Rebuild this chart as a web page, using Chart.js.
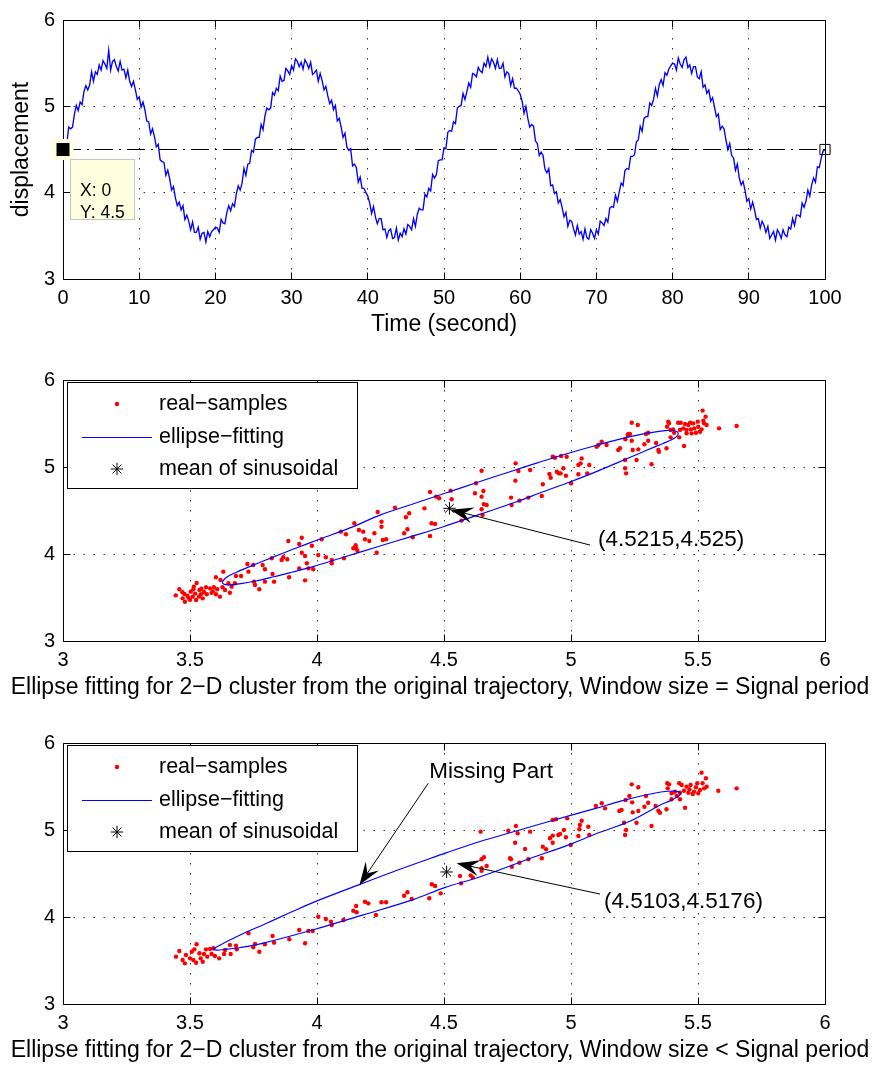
<!DOCTYPE html>
<html lang="en">
<head>
<meta charset="utf-8">
<title>Sinusoidal trajectory and ellipse fitting</title>
<script src="https://cdn.jsdelivr.net/npm/chart.js@4.4.1/dist/chart.umd.min.js"></script>
<style>
    html, body { margin: 0; padding: 0; background: #ffffff; }
    body { position: relative; width: 876px; height: 1066px; overflow: hidden; }
    .panel { position: absolute; left: 0; width: 876px; }
</style>
</head>
<body>
<div class="panel" style="top:0; height:345px;"><canvas id="signalChart"></canvas></div>
<div class="panel" style="top:345px; height:362px;"><canvas id="fullWindowChart"></canvas></div>
<div class="panel" style="top:707px; height:359px;"><canvas id="shortWindowChart"></canvas></div>
<script>
// ---------- signal (sampled every timeStep seconds) ----------
const timeStep = 0.25;
const displacement = [
    4.50,4.58,4.57,4.76,4.74,4.76,4.91,5.01,4.95,5.05,5.02,5.17,5.24,5.19,5.25,5.40,5.29,5.40,5.37,5.48,
    5.42,5.53,5.49,5.44,5.65,5.42,5.52,5.54,5.46,5.41,5.52,5.42,5.43,5.33,5.42,5.29,5.23,5.29,5.19,5.08,
    5.11,4.99,5.05,4.96,4.83,4.82,4.68,4.74,4.65,4.53,4.56,4.38,4.36,4.35,4.20,4.26,4.16,4.03,4.07,3.94,
    3.85,3.89,3.80,3.85,3.69,3.74,3.67,3.57,3.66,3.54,3.54,3.60,3.46,3.53,3.54,3.43,3.55,3.49,3.55,3.57,
    3.60,3.59,3.54,3.69,3.65,3.64,3.77,3.85,3.79,3.87,3.84,3.99,4.08,4.03,4.11,4.28,4.20,4.33,4.34,4.49,
    4.47,4.62,4.64,4.64,4.79,4.73,4.89,4.98,4.96,4.98,5.16,5.13,5.21,5.18,5.35,5.29,5.30,5.44,5.41,5.37,
    5.47,5.42,5.55,5.52,5.46,5.51,5.43,5.54,5.50,5.44,5.51,5.37,5.39,5.42,5.29,5.38,5.30,5.19,5.23,5.12,
    5.03,5.07,4.96,5.01,4.83,4.86,4.76,4.64,4.69,4.53,4.49,4.51,4.31,4.33,4.29,4.12,4.18,4.05,4.05,4.00,
    3.96,3.88,3.76,3.84,3.72,3.64,3.70,3.70,3.57,3.58,3.48,3.56,3.58,3.47,3.48,3.59,3.45,3.53,3.49,3.58,
    3.52,3.63,3.61,3.57,3.70,3.61,3.75,3.82,3.80,3.80,3.98,3.95,4.05,4.02,4.21,4.17,4.21,4.37,4.38,4.38,
    4.52,4.51,4.70,4.72,4.71,4.82,4.80,4.98,5.00,5.01,5.15,5.08,5.17,5.27,5.22,5.38,5.37,5.34,5.45,5.41,
    5.39,5.50,5.46,5.57,5.46,5.55,5.51,5.44,5.54,5.44,5.44,5.50,5.34,5.40,5.38,5.24,5.32,5.21,5.21,5.18,
    5.14,5.06,4.92,5.00,4.86,4.76,4.79,4.77,4.60,4.57,4.43,4.47,4.43,4.27,4.23,4.28,4.08,4.09,3.99,4.01,
    3.88,3.92,3.83,3.72,3.77,3.61,3.68,3.67,3.58,3.51,3.62,3.52,3.55,3.46,3.58,3.48,3.46,3.57,3.53,3.47,
    3.57,3.52,3.67,3.65,3.62,3.70,3.66,3.82,3.84,3.83,3.97,3.90,4.01,4.11,4.08,4.26,4.28,4.27,4.42,4.42,
    4.44,4.59,4.61,4.77,4.71,4.86,4.88,4.88,5.04,5.01,5.08,5.21,5.12,5.25,5.31,5.24,5.39,5.36,5.43,5.47,
    5.50,5.49,5.42,5.56,5.49,5.45,5.54,5.57,5.45,5.48,5.38,5.46,5.46,5.34,5.32,5.40,5.22,5.25,5.15,5.19,
    5.06,5.10,4.99,4.88,4.91,4.73,4.77,4.74,4.61,4.50,4.57,4.43,4.40,4.26,4.33,4.17,4.09,4.13,4.03,3.90,
    3.93,3.81,3.89,3.80,3.69,3.70,3.59,3.67,3.62,3.54,3.61,3.47,3.51,3.55,3.45,3.57,3.53,3.47,3.57,3.51,
    3.49,3.60,3.58,3.70,3.62,3.74,3.74,3.72,3.88,3.83,3.90,4.03,3.96,4.09,4.17,4.12,4.30,4.29,4.40,4.48,
    4.50
];
const timeTicks = [0, 10, 20, 30, 40, 50, 60, 70, 80, 90, 100];
const displacementTicks = [3, 4, 5, 6];
const referenceLevel = 4.5;

// ---------- 2-D clusters ----------
const phaseXTicks = [3, 3.5, 4, 4.5, 5, 5.5, 6];
const phaseYTicks = [3, 4, 5, 6];

const fullSamples = [
    [3.444,3.525],[3.458,3.594],[3.471,3.490],[3.480,3.452],[3.478,3.540],[3.494,3.498],[3.503,3.567],[3.513,3.594],[3.511,3.510],[3.526,3.667],
    [3.524,3.471],[3.537,3.586],[3.543,3.537],[3.550,3.490],[3.555,3.563],[3.563,3.617],[3.566,3.537],[3.579,3.605],[3.585,3.555],[3.594,3.617],
    [3.602,3.732],[3.607,3.594],[3.602,3.537],[3.618,3.510],[3.620,3.701],[3.628,3.617],[3.631,3.797],[3.638,3.586],[3.651,3.663],[3.657,3.555],
    [3.664,3.625],[3.677,3.663],[3.681,3.747],[3.701,3.747],[3.726,3.885],[3.730,3.797],[3.749,3.874],[3.752,3.682],[3.756,3.644],[3.773,3.594],
    [3.786,3.874],[3.795,3.824],[3.795,3.682],[3.822,3.951],[3.825,3.770],[3.831,3.682],[3.861,3.931],[3.867,3.962],[3.883,3.939],[3.887,4.149],
    [3.890,3.732],[3.930,4.115],[3.940,4.187],[3.940,4.015],[3.930,3.835],[3.953,3.977],[3.953,3.697],[3.960,3.893],[3.966,3.835],[3.980,4.095],
    [3.985,3.824],[4.005,3.989],[4.018,4.169],[4.035,3.962],[4.058,3.931],[4.058,3.893],[4.094,4.257],[4.114,4.227],[4.106,3.951],[4.147,4.353],
    [4.143,4.066],[4.154,4.066],[4.159,4.038],[4.165,4.276],[4.182,4.257],[4.189,4.169],[4.206,4.149],[4.226,4.238],[4.235,4.015],[4.239,4.483],
    [3.490,3.520],[3.520,3.545],[3.535,3.510],[3.470,3.560],[3.500,3.475],[3.545,3.600],[3.590,3.570],[3.515,3.625],
    [4.152,4.101],[4.254,4.372],[4.254,4.314],[4.259,4.161],[4.272,4.169],[4.307,4.533],[4.343,4.238],[4.350,4.422],[4.356,4.284],[4.363,4.468],
    [4.377,4.192],[4.423,4.525],[4.445,4.713],[4.445,4.207],[4.451,4.353],[4.465,4.345],[4.469,4.659],[4.481,4.640],[4.526,4.728],[4.530,4.629],
    [4.569,4.384],[4.622,4.698],[4.626,4.813],[4.648,4.659],[4.655,4.724],[4.657,4.571],[4.648,4.514],[4.648,4.957],[4.652,4.448],[4.668,4.563],
    [4.764,4.648],[4.766,4.563],[4.781,4.843],[4.782,5.042],[4.793,4.954],[4.797,4.613],[4.832,4.648],[4.839,4.966],[4.885,4.667],[4.889,4.801],
    [4.915,4.920],[4.920,4.877],[4.928,5.118],[4.937,5.107],[4.944,4.946],[4.952,4.927],[4.959,4.927],[4.961,5.126],[4.970,4.985],[4.980,4.900],
    [4.983,5.118],[5.000,4.813],[5.029,5.023],[5.029,4.916],[5.042,5.099],[5.038,5.042],[5.064,4.927],[5.072,5.023],[5.101,5.233],[5.108,5.253],
    [5.121,5.291],[5.140,5.253],[5.186,5.195],[5.193,5.215],[5.213,5.080],[5.213,4.985],[5.217,4.927],[5.223,5.368],
    [5.214,5.319],[5.226,5.379],[5.232,5.379],[5.239,5.509],[5.239,5.302],[5.243,5.195],[5.258,5.080],[5.263,5.483],[5.265,5.203],[5.289,5.262],
    [5.295,5.379],[5.304,5.394],[5.304,5.302],[5.317,5.031],[5.335,5.276],[5.344,5.195],[5.346,5.176],[5.376,5.215],[5.383,5.521],[5.386,5.502],
    [5.378,5.463],[5.392,5.425],[5.392,5.341],[5.402,5.433],[5.406,5.394],[5.422,5.509],[5.429,5.425],[5.426,5.341],[5.432,5.509],[5.442,5.444],
    [5.445,5.241],[5.449,5.494],[5.455,5.425],[5.455,5.387],[5.462,5.483],[5.469,5.509],[5.472,5.433],[5.475,5.387],[5.481,5.502],[5.485,5.444],
    [5.492,5.394],[5.499,5.521],[5.501,5.463],[5.508,5.406],[5.514,5.433],[5.518,5.648],[5.521,5.533],[5.524,5.502],[5.530,5.579],[5.534,5.483],
    [5.583,5.444],[5.652,5.471]
];
const fullEllipse = [
    [4.504,4.698],[4.630,4.822],[4.760,4.946],[4.870,5.050],[4.957,5.130],[5.101,5.250],[5.219,5.340],[5.304,5.390],[5.370,5.418],[5.405,5.420],
    [5.420,5.400],[5.420,5.365],[5.402,5.322],[5.360,5.268],[5.300,5.195],[5.219,5.094],[5.090,4.935],[4.996,4.828],[4.890,4.715],[4.786,4.601],
    [4.640,4.455],[4.497,4.314],[4.370,4.200],[4.242,4.087],[4.091,3.951],[3.985,3.855],[3.900,3.790],[3.830,3.738],[3.760,3.690],[3.700,3.660],
    [3.655,3.645],[3.632,3.655],[3.628,3.680],[3.638,3.718],[3.655,3.752],[3.690,3.800],[3.760,3.885],[3.822,3.958],[3.900,4.048],[4.012,4.172],
    [4.143,4.315],[4.250,4.450],[4.380,4.578],[4.504,4.698]
];
const fullMean = [4.5215, 4.525];

const shortSamples = [
    [3.445,3.544],[3.458,3.609],[3.471,3.506],[3.480,3.467],[3.484,3.563],[3.500,3.525],[3.507,3.601],[3.517,3.628],[3.513,3.506],[3.526,3.686],
    [3.524,3.475],[3.537,3.583],[3.542,3.525],[3.550,3.486],[3.555,3.575],[3.563,3.628],[3.568,3.544],[3.579,3.632],[3.585,3.575],[3.592,3.640],
    [3.598,3.552],[3.615,3.525],[3.638,3.621],[3.634,3.575],[3.657,3.678],[3.660,3.575],[3.681,3.670],[3.684,3.628],[3.730,3.813],[3.749,3.652],
    [3.756,3.690],[3.773,3.601],[3.795,3.686],[3.825,3.782],[3.831,3.705],[3.891,3.744],[3.930,3.851],[3.953,3.698],[3.966,3.839],[3.983,3.839],
    [4.005,4.003],[4.035,3.977],[4.058,3.908],[4.055,3.946],[4.104,3.966],[4.143,4.072],[4.154,4.126],[4.156,4.054],[4.189,4.176],[4.202,4.157],
    [4.232,4.023],[4.254,4.169],[4.272,4.169],[4.343,4.245],[4.356,4.284],[4.373,4.207],[4.442,4.215],[4.452,4.376],[4.465,4.356],[4.487,4.272],
    [4.644,4.981],[4.753,4.992],[4.563,4.471],[4.567,4.387],[4.605,4.479],[4.613,4.456],[4.648,4.663],[4.657,4.686],[4.668,4.586],[4.648,4.560],
    [4.760,4.675],[4.648,4.532],[4.783,5.046],[4.790,4.962],[4.780,4.854],[4.764,4.663],[4.767,4.578],[4.797,4.624],[4.819,4.782],[4.839,4.981],
    [4.832,4.663],[4.885,4.675],[4.889,4.808],[4.902,4.778],[4.917,4.905],[4.928,5.115],[4.941,5.123],[4.928,4.854],[4.928,4.935],[4.950,4.943],
    [4.957,4.954],[4.972,5.000],[4.980,4.916],[4.985,5.134],[4.999,4.828],[5.029,4.931],[5.035,5.057],[5.042,5.107],[5.033,5.008],[5.068,5.038],
    [5.072,4.943],[5.098,5.276],[5.121,5.307],[5.134,5.249],[5.190,5.218],[5.199,5.230],[5.209,5.084],[5.217,5.000],[5.213,4.943],[5.215,5.345],
    [5.230,5.391],[5.239,5.525],[5.241,5.318],[5.243,5.203],[5.258,5.084],[5.265,5.491],[5.265,5.218],[5.289,5.268],[5.295,5.391],[5.304,5.314],
    [5.317,5.046],[5.333,5.276],[5.344,5.222],[5.350,5.199],[5.376,5.238],[5.379,5.537],[5.386,5.525],[5.381,5.479],[5.396,5.422],[5.396,5.353],
    [5.409,5.440],[5.416,5.391],[5.426,5.537],[5.429,5.429],[5.429,5.353],[5.436,5.517],[5.445,5.452],[5.449,5.256],[5.455,5.498],[5.462,5.429],
    [5.466,5.468],[5.471,5.517],[5.479,5.414],[5.484,5.440],[5.492,5.491],[5.497,5.537],[5.501,5.422],[5.508,5.460],[5.514,5.659],[5.518,5.537],
    [5.524,5.479],[5.531,5.594],[5.534,5.498],[5.580,5.452],[5.652,5.479]
];
const shortEllipse = [
    [4.510,4.740],[4.642,4.868],[4.760,4.968],[4.930,5.112],[5.101,5.252],[5.200,5.335],[5.298,5.405],[5.370,5.443],[5.410,5.447],[5.430,5.428],
    [5.428,5.400],[5.416,5.375],[5.390,5.335],[5.350,5.285],[5.232,5.100],[5.101,4.960],[4.996,4.835],[4.839,4.672],[4.642,4.462],[4.500,4.335],
    [4.379,4.200],[4.182,4.025],[3.985,3.853],[3.789,3.700],[3.700,3.650],[3.640,3.628],[3.605,3.620],[3.592,3.628],[3.605,3.655],[3.625,3.688],
    [3.657,3.736],[3.720,3.825],[3.789,3.912],[3.890,4.045],[4.000,4.185],[4.169,4.375],[4.313,4.535],[4.510,4.740]
];
const shortMean = [4.5103, 4.5176];

const seriesNames = ['real\u2212samples', 'ellipse\u2212fitting', 'mean of sinusoidal'];

// ---------- drawing helpers ----------
const FONT = '"Liberation Sans", Arial, Helvetica, sans-serif';
const TICK_FONT = 20;
const LABEL_FONT = 23;
const TEXT_FONT = 22.5;

function crisp(v) {
    return Math.round(v - 0.5) + 0.5;
}

function toPoints(pairs) {
    return pairs.map(p => ({ x: p[0], y: p[1] }));
}

// boxed axes with dotted grid and inward ticks
function axesFrame(cfg) {
    return {
        id: 'axesFrame',
        beforeDatasetsDraw(chart) {
            const { ctx, chartArea: a, scales: { x, y } } = chart;
            const L = crisp(a.left), R = crisp(a.right), T = crisp(a.top), B = crisp(a.bottom);
            ctx.save();
            ctx.lineWidth = 1;

            ctx.strokeStyle = '#333333';
            ctx.setLineDash([1.5, 8.5]);
            ctx.beginPath();
            cfg.xTicks.slice(1, -1).forEach(v => {
                const px = crisp(x.getPixelForValue(v));
                ctx.moveTo(px, B);
                ctx.lineTo(px, T);
            });
            cfg.yTicks.slice(1, -1).forEach(v => {
                const py = crisp(y.getPixelForValue(v));
                ctx.moveTo(L, py);
                ctx.lineTo(R, py);
            });
            ctx.stroke();
            ctx.setLineDash([]);

            const len = 7;
            ctx.strokeStyle = '#000000';
            ctx.beginPath();
            ctx.rect(L, T, R - L, B - T);
            cfg.xTicks.forEach(v => {
                const px = crisp(x.getPixelForValue(v));
                ctx.moveTo(px, B); ctx.lineTo(px, B - len);
                ctx.moveTo(px, T); ctx.lineTo(px, T + len);
            });
            cfg.yTicks.forEach(v => {
                const py = crisp(y.getPixelForValue(v));
                ctx.moveTo(L, py); ctx.lineTo(L + len, py);
                ctx.moveTo(R, py); ctx.lineTo(R - len, py);
            });
            ctx.stroke();
            ctx.restore();
        },
        afterDraw(chart) {
            const { ctx, chartArea: a } = chart;
            ctx.save();
            ctx.fillStyle = '#000000';
            ctx.font = LABEL_FONT + 'px ' + FONT;
            ctx.textAlign = 'center';
            ctx.textBaseline = 'middle';
            if (cfg.xTitle) {
                const cx = cfg.xTitleX !== undefined ? cfg.xTitleX : (a.left + a.right) / 2;
                ctx.fillText(cfg.xTitle, cx, a.bottom + cfg.xTitleGap);
            }
            if (cfg.yTitle) {
                ctx.translate(a.left - cfg.yTitleGap, (a.top + a.bottom) / 2);
                ctx.rotate(-Math.PI / 2);
                ctx.fillText(cfg.yTitle, 0, 0);
            }
            ctx.restore();
        }
    };
}

// boxed legend in the upper-left corner of the plot
function insetLegend(cfg) {
    return {
        id: 'insetLegend',
        afterDatasetsDraw(chart) {
            const { ctx, chartArea: a } = chart;
            const left = a.left + cfg.dx, top = a.top + cfg.dy;
            ctx.save();
            ctx.fillStyle = '#ffffff';
            ctx.fillRect(left, top, cfg.width, cfg.height);
            ctx.strokeStyle = '#000000';
            ctx.lineWidth = 1;
            ctx.strokeRect(crisp(left), crisp(top), Math.round(cfg.width), Math.round(cfg.height));

            ctx.font = cfg.fontSize + 'px ' + FONT;
            ctx.textAlign = 'left';
            ctx.textBaseline = 'middle';
            chart.data.datasets.forEach((ds, i) => {
                const cy = top + cfg.rowY[i];
                if (ds.showLine) {
                    ctx.strokeStyle = ds.borderColor;
                    ctx.lineWidth = ds.borderWidth;
                    ctx.beginPath();
                    ctx.moveTo(left + cfg.lineFrom, crisp(cy));
                    ctx.lineTo(left + cfg.lineTo, crisp(cy));
                    ctx.stroke();
                } else {
                    ctx.fillStyle = ds.backgroundColor;
                    ctx.strokeStyle = ds.borderColor;
                    ctx.lineWidth = ds.borderWidth || 0;
                    Chart.helpers.drawPoint(ctx, {
                        pointStyle: ds.pointStyle,
                        radius: ds.pointRadius,
                        borderWidth: ds.borderWidth || 0,
                        rotation: 0
                    }, left + cfg.markerX, cy);
                }
                ctx.fillStyle = '#000000';
                ctx.fillText(ds.label, left + cfg.textX, cy);
            });
            ctx.restore();
        }
    };
}

// text labels with arrows pointing into the plot
function callouts(items) {
    return {
        id: 'callouts',
        afterDatasetsDraw(chart) {
            const { ctx, scales: { x, y } } = chart;
            items.forEach(it => {
                const fx = x.getPixelForValue(it.from[0]), fy = y.getPixelForValue(it.from[1]);
                const tx = x.getPixelForValue(it.to[0]), ty = y.getPixelForValue(it.to[1]);
                const ang = Math.atan2(ty - fy, tx - fx);
                const ux = Math.cos(ang), uy = Math.sin(ang);
                const nx = -uy, ny = ux;
                const len = 23, half = 8, notch = 0.62;

                ctx.save();
                ctx.strokeStyle = '#000000';
                ctx.fillStyle = '#000000';
                ctx.lineWidth = 1;
                ctx.beginPath();
                ctx.moveTo(fx, fy);
                ctx.lineTo(tx - ux * len * notch, ty - uy * len * notch);
                ctx.stroke();

                ctx.beginPath();
                ctx.moveTo(tx, ty);
                ctx.lineTo(tx - ux * len + nx * half, ty - uy * len + ny * half);
                ctx.lineTo(tx - ux * len * notch, ty - uy * len * notch);
                ctx.lineTo(tx - ux * len - nx * half, ty - uy * len - ny * half);
                ctx.closePath();
                ctx.fill();

                ctx.font = TEXT_FONT + 'px ' + FONT;
                ctx.textAlign = 'left';
                ctx.textBaseline = 'middle';
                ctx.fillText(it.text, x.getPixelForValue(it.textAt[0]), y.getPixelForValue(it.textAt[1]));
                ctx.restore();
            });
        }
    };
}

// yellow data tip attached to a marker
function dataTip(cfg) {
    return {
        id: 'dataTip',
        afterDatasetsDraw(chart) {
            const pt = chart.getDatasetMeta(cfg.dataset).data[0];
            const { ctx } = chart;
            const left = Math.round(pt.x + cfg.dx), top = Math.round(pt.y + cfg.dy);
            ctx.save();
            ctx.fillStyle = '#ffffe0';
            ctx.fillRect(left, top, cfg.width, cfg.height);
            ctx.strokeStyle = '#c4c4c4';
            ctx.lineWidth = 1;
            ctx.strokeRect(left + 0.5, top + 0.5, cfg.width, cfg.height);
            ctx.fillStyle = '#000000';
            ctx.font = cfg.fontSize + 'px ' + FONT;
            ctx.textAlign = 'left';
            ctx.textBaseline = 'alphabetic';
            cfg.lines.forEach((line, i) => ctx.fillText(line, left + cfg.textX, top + cfg.baselines[i]));
            ctx.restore();
        }
    };
}

function linearScale(min, max, ticks, fit, padding) {
    return {
        type: 'linear',
        min: min,
        max: max,
        grid: { display: false, drawTicks: false },
        border: { display: false },
        afterBuildTicks: s => { s.ticks = ticks.map(v => ({ value: v })); },
        afterFit: s => {
            if (s.isHorizontal()) s.height = fit; else s.width = fit;
        },
        ticks: {
            color: '#000000',
            padding: padding,
            autoSkip: false,
            maxRotation: 0,
            font: { family: FONT, size: TICK_FONT },
            callback: v => String(v)
        }
    };
}

function baseOptions(top, xAxisHeight, xTicks, yTicks, xRange, yRange) {
    return {
        responsive: true,
        maintainAspectRatio: false,
        animation: false,
        events: [],
        layout: { padding: { left: 0, right: 51, top: top, bottom: 0 } },
        plugins: { legend: { display: false }, tooltip: { enabled: false } },
        scales: {
            x: linearScale(xRange[0], xRange[1], xTicks, xAxisHeight, 7),
            y: linearScale(yRange[0], yRange[1], yTicks, 63, 8)
        }
    };
}

// ---------- time series ----------
const signalPoints = displacement.map((v, i) => ({ x: i * timeStep, y: v }));
const firstPoint = signalPoints[0];
const lastPoint = signalPoints[signalPoints.length - 1];

new Chart(document.getElementById('signalChart'), {
    type: 'scatter',
    data: {
        datasets: [
            {
                label: 'displacement',
                data: signalPoints,
                showLine: true,
                borderColor: '#0000ff',
                borderWidth: 1.35,
                pointRadius: 0,
                order: 4
            },
            {
                label: 'mean level',
                data: [{ x: timeTicks[0], y: referenceLevel }, { x: timeTicks[timeTicks.length - 1], y: referenceLevel }],
                showLine: true,
                borderColor: '#000000',
                borderWidth: 1,
                borderDash: [18, 6, 2, 6],
                pointRadius: 0,
                order: 3
            },
            {
                label: 'selected',
                data: [firstPoint],
                pointStyle: 'rect',
                pointRadius: 12,
                backgroundColor: '#000000',
                borderColor: '#ffffe0',
                borderWidth: 4,
                clip: false,
                order: 1
            },
            {
                label: 'end',
                data: [lastPoint],
                pointStyle: 'rect',
                pointRadius: 7.2,
                backgroundColor: 'rgba(0,0,0,0)',
                borderColor: '#000000',
                borderWidth: 1,
                clip: false,
                order: 2
            }
        ]
    },
    options: baseOptions(18, 66, timeTicks, displacementTicks, [0, 100], [3, 6]),
    plugins: [
        axesFrame({ xTicks: timeTicks, yTicks: displacementTicks, xTitle: 'Time (second)', xTitleGap: 46, yTitle: 'displacement', yTitleGap: 41 }),
        dataTip({
            dataset: 2, dx: 7, dy: 9, width: 64, height: 60, fontSize: 17.5, textX: 10, baselines: [37, 58.5],
            lines: ['X: ' + firstPoint.x, 'Y: ' + firstPoint.y]
        })
    ]
});

// ---------- 2-D cluster panels ----------
function clusterChart(canvasId, samples, ellipse, mean, top, xAxisHeight, caption, notes, legendHeight) {
    new Chart(document.getElementById(canvasId), {
        type: 'scatter',
        data: {
            datasets: [
                {
                    label: seriesNames[0],
                    data: toPoints(samples),
                    pointStyle: 'circle',
                    pointRadius: 2.2,
                    backgroundColor: '#ff0000',
                    borderColor: '#ff0000',
                    borderWidth: 0,
                    order: 3
                },
                {
                    label: seriesNames[1],
                    data: toPoints(ellipse),
                    showLine: true,
                    tension: 0.35,
                    borderColor: '#0000ff',
                    borderWidth: 1.15,
                    pointRadius: 0,
                    order: 2
                },
                {
                    label: seriesNames[2],
                    data: [{ x: mean[0], y: mean[1] }],
                    pointStyle: 'star',
                    pointRadius: 6.2,
                    backgroundColor: '#000000',
                    borderColor: '#000000',
                    borderWidth: 1,
                    order: 1
                }
            ]
        },
        options: baseOptions(top, xAxisHeight, phaseXTicks, phaseYTicks, [3, 6], [3, 6]),
        plugins: [
            axesFrame({ xTicks: phaseXTicks, yTicks: phaseYTicks, xTitle: caption, xTitleGap: 47, xTitleX: 440 }),
            callouts(notes),
            insetLegend({
                dx: 4, dy: 2.5, width: 290, height: legendHeight, fontSize: 21.5,
                rowY: [21.5, 54.5, 86.5], markerX: 50, lineFrom: 15, lineTo: 85, textX: 92
            })
        ]
    });
}

clusterChart('fullWindowChart', fullSamples, fullEllipse, fullMean, 35, 66,
    'Ellipse fitting for 2\u2212D cluster from the original trajectory, Window size = Signal period',
    [
        { text: '(' + fullMean[0] + ',' + fullMean[1] + ')', textAt: [5.106, 4.161], from: [5.075, 4.103], to: [4.525, 4.510] }
    ],
    106);

clusterChart('shortWindowChart', shortSamples, shortEllipse, shortMean, 36, 62,
    'Ellipse fitting for 2\u2212D cluster from the original trajectory, Window size < Signal period',
    [
        { text: '(' + shortMean[0] + ',' + shortMean[1] + ')', textAt: [5.130, 4.176], from: [5.114, 4.264], to: [4.550, 4.617] },
        { text: 'Missing Part', textAt: [4.442, 5.670], from: [4.438, 5.537], to: [4.167, 4.368] }
    ],
    106);
</script>
</body>
</html>
